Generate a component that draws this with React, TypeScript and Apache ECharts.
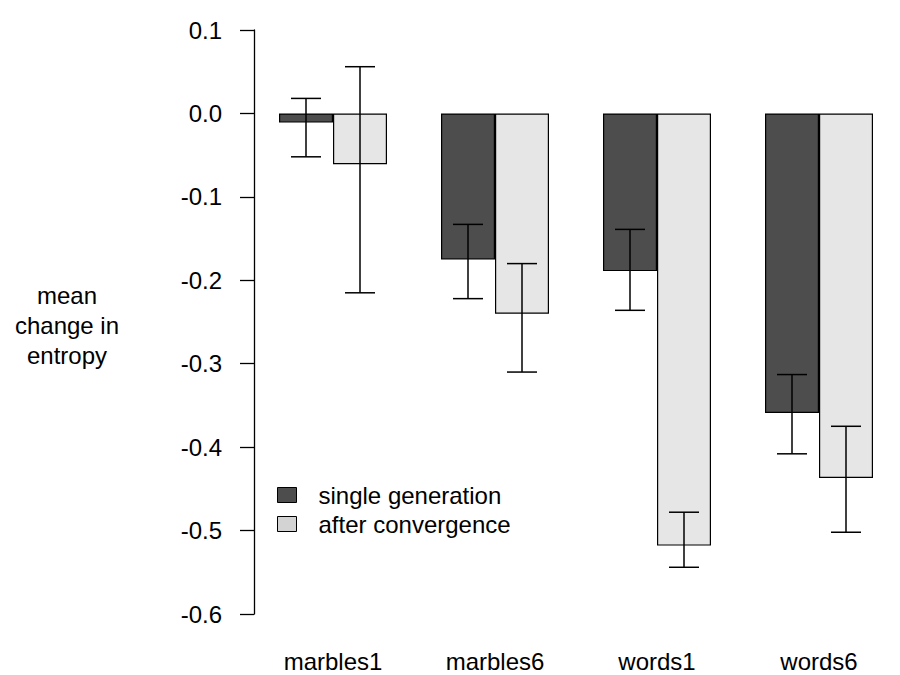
import React, { useEffect, useRef } from "react";
import * as echarts from "echarts";

const categories = ["marbles1", "marbles6", "words1", "words6"];
const seriesNames = ["single generation", "after convergence"];
const singleGen = [-0.011, -0.175, -0.189, -0.359];
const afterConv = [-0.061, -0.24, -0.518, -0.437];
const singleLow = [-0.052, -0.222, -0.236, -0.408];
const singleHigh = [0.018, -0.133, -0.139, -0.313];
const afterLow = [-0.215, -0.31, -0.544, -0.502];
const afterHigh = [0.056, -0.18, -0.478, -0.375];
const yTicks = [-0.6, -0.5, -0.4, -0.3, -0.2, -0.1, 0.0, 0.1];

const FONT = "Liberation Sans, Arial, sans-serif";
const FS = 24;
const BAR_W = 54;

export default function App() {
  const ref = useRef<HTMLDivElement>(null);
  useEffect(() => {
    if (!ref.current) return;
    const chart = echarts.init(ref.current, null, { renderer: "svg" });

    const errData: number[][] = [];
    categories.forEach((_, i) => {
      errData.push([i, singleLow[i], singleHigh[i], -1]);
      errData.push([i, afterLow[i], afterHigh[i], 1]);
    });

    const option: any = {
      animation: false,
      backgroundColor: "#ffffff",
      grid: { left: 252, right: -3, top: 30, bottom: 61, containLabel: false },
      xAxis: {
        type: "category",
        data: categories,
        axisLine: { show: false },
        axisTick: { show: false },
        splitLine: { show: false },
        axisLabel: { fontFamily: FONT, fontSize: FS, color: "#000", margin: 35 },
      },
      yAxis: {
        type: "value",
        min: -0.6,
        max: 0.1,
        interval: 0.1,
        offset: -2,
        axisLine: { show: true, lineStyle: { color: "#000", width: 1.3 } },
        axisTick: { show: true, inside: false, length: 14, lineStyle: { color: "#000", width: 1.3 } },
        splitLine: { show: false },
        axisLabel: {
          fontFamily: FONT,
          fontSize: FS,
          color: "#000",
          margin: 32,
          formatter: (v: number) => {
            const t = yTicks.find((x) => Math.abs(x - v) < 1e-9);
            return (t !== undefined ? t : v).toFixed(1);
          },
        },
      },
      legend: {
        left: 272,
        top: 478,
        orient: "vertical",
        itemWidth: 19,
        itemHeight: 15,
        itemGap: 5,
        icon: "rect",
        textStyle: { fontFamily: FONT, fontSize: FS, color: "#000", padding: [0, 0, 0, 17] },
        data: [
          { name: seriesNames[0], itemStyle: { color: "#4d4d4d", borderColor: "#000", borderWidth: 1 } },
          { name: seriesNames[1], itemStyle: { color: "#d3d3d3", borderColor: "#000", borderWidth: 1 } },
        ],
      },
      series: [
        {
          name: seriesNames[0],
          type: "bar",
          data: singleGen,
          barWidth: BAR_W,
          barGap: "0%",
          itemStyle: { color: "#4d4d4d", borderColor: "#000", borderWidth: 1.2 },
        },
        {
          name: seriesNames[1],
          type: "bar",
          data: afterConv,
          barWidth: BAR_W,
          barGap: "0%",
          itemStyle: { color: "#e6e6e6", borderColor: "#000", borderWidth: 1.2 },
        },
        {
          type: "custom",
          data: errData,
          z: 10,
          renderItem: (params: any, api: any) => {
            const i = api.value(0);
            const side = api.value(3);
            const lo = api.coord([i, api.value(1)]);
            const hi = api.coord([i, api.value(2)]);
            const x = lo[0] + side * (BAR_W / 2);
            const cap = 15;
            const style = { stroke: "#000", lineWidth: 1.5 };
            return {
              type: "group",
              children: [
                { type: "line", shape: { x1: x, y1: lo[1], x2: x, y2: hi[1] }, style },
                { type: "line", shape: { x1: x - cap, y1: lo[1], x2: x + cap, y2: lo[1] }, style },
                { type: "line", shape: { x1: x - cap, y1: hi[1], x2: x + cap, y2: hi[1] }, style },
              ],
            };
          },
        },
      ],
      graphic: [
        {
          type: "text",
          x: 67,
          y: 325,
          style: {
            text: "mean\nchange in\nentropy",
            fontFamily: FONT,
            fontSize: FS,
            lineHeight: 30,
            fill: "#000",
            align: "center",
            verticalAlign: "middle",
          },
        },
      ],
    };
    chart.setOption(option);
    return () => chart.dispose();
  }, []);
  return <div ref={ref} style={{ position: "absolute", left: 0, top: 0, width: 900, height: 675 }} />;
}
